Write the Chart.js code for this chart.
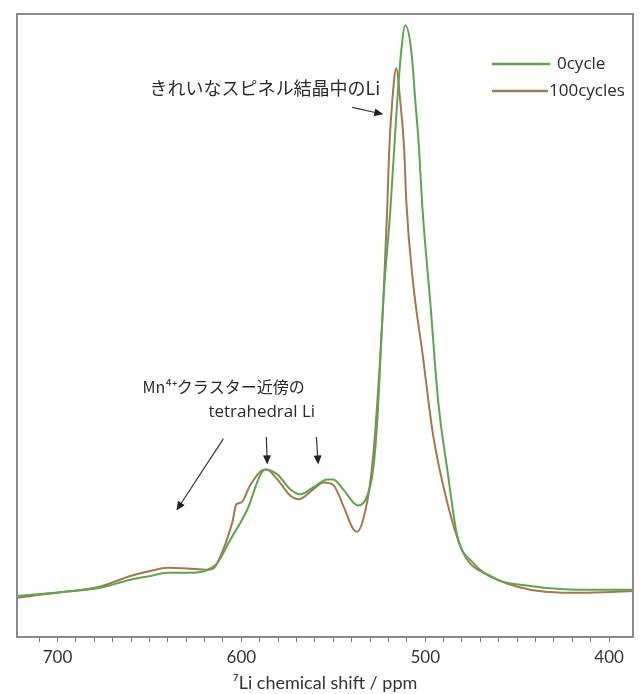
<!DOCTYPE html>
<html>
<head>
<meta charset="utf-8">
<script src="https://cdn.jsdelivr.net/npm/chart.js@4.4.1/dist/chart.umd.min.js"></script>
<style>
  body { margin: 0; background: #fff; }
</style>
</head>
<body>
<canvas id="chart" width="644" height="694"></canvas>
<script>
// 0cycle spectrum (ppm, intensity a.u.)
const shift0 = [721.7, 709.2, 694.6, 676.6, 660.3, 649.5, 640.2, 629.3, 620.7, 616.8, 613.0, 606.0, 596.7, 589.7, 587.0, 580.4, 573.4, 567.9, 560.9, 553.3, 550.0, 544.6, 539.1, 536.4, 531.5, 528.3, 526.1, 522.8, 519.0, 515.2, 513.0, 510.9, 507.6, 505.4, 503.3, 501.6, 497.3, 492.9, 488.0, 482.6, 473.9, 460.9, 442.9, 415.8, 386.4];
const int0 = [6.6, 6.9, 7.3, 7.9, 9.2, 9.8, 10.3, 10.3, 10.5, 11.0, 11.9, 15.6, 20.5, 26.0, 26.9, 26.1, 23.7, 22.9, 24.0, 25.3, 25.3, 23.7, 21.6, 21.1, 22.7, 26.9, 34.5, 53.9, 68.4, 86.1, 94.2, 98.2, 94.2, 86.1, 78.1, 69.2, 53.9, 37.7, 26.9, 16.3, 11.9, 9.2, 8.2, 7.6, 7.6];

// 100cycles spectrum
const shift100 = [721.7, 709.2, 694.6, 676.6, 660.3, 649.5, 640.2, 629.3, 618.5, 615.2, 613.0, 604.9, 602.7, 600.0, 595.1, 588.6, 586.4, 580.4, 573.4, 569.0, 560.9, 555.4, 550.0, 544.6, 539.1, 537.0, 533.7, 529.9, 527.2, 522.8, 520.7, 519.6, 517.9, 515.8, 513.6, 511.4, 510.3, 506.5, 501.6, 495.7, 488.0, 479.3, 464.7, 442.9, 415.8, 386.4];
const int100 = [6.3, 6.8, 7.3, 8.1, 9.8, 10.6, 11.1, 11.0, 10.8, 11.0, 11.9, 18.4, 21.3, 21.6, 24.4, 26.8, 26.9, 25.3, 22.7, 22.1, 23.7, 24.8, 24.4, 21.1, 17.3, 16.9, 18.9, 24.8, 32.9, 53.9, 68.4, 78.1, 86.1, 91.3, 86.1, 78.1, 70.0, 56.6, 45.8, 32.4, 21.6, 13.5, 9.8, 7.6, 7.1, 7.4];

const seriesNames = ['0cycle', '100cycles'];
const seriesColors = ['#5aa84c', '#a8764c'];

const xMin = 387, xMax = 722;

// annotation texts and arrows in data coordinates
const notes = [
    { text: 'きれいなスピネル結晶中のLi', x: 524.5, y: 88.1, align: 'right', font: '18px "Noto Sans CJK JP", sans-serif' },
    { text: 'Mn⁴⁺クラスター近傍の', x: 653.8, y: 40.2, align: 'left', font: '16px "Noto Sans CJK JP", sans-serif' },
    { text: 'tetrahedral Li', x: 617.9, y: 36.1, align: 'left', font: '17px "Open Sans", sans-serif' }
];
const arrows = [
    [539.7, 85.0, 522.8, 83.9],
    [609.8, 31.8, 635.3, 20.3],
    [586.4, 32.1, 585.9, 27.7],
    [559.2, 32.1, 558.2, 27.7]
];

function toPoints(xs, ys) {
    return xs.map((x, i) => ({ x: x, y: ys[i] }));
}

const frameAndNotes = {
    id: 'frameAndNotes',
    afterDatasetsDraw(chart) {
        const { ctx, chartArea: a, scales } = chart;
        const sx = scales.x, sy = scales.y;
        ctx.save();

        // frame
        ctx.strokeStyle = '#8a8a8a';
        ctx.lineWidth = 2;
        ctx.strokeRect(a.left, a.top, a.right - a.left, a.bottom - a.top);

        // arrows
        ctx.strokeStyle = '#333';
        ctx.fillStyle = '#222';
        ctx.lineWidth = 1.2;
        arrows.forEach(([x1, y1, x2, y2]) => {
            const p1 = [sx.getPixelForValue(x1), sy.getPixelForValue(y1)];
            const p2 = [sx.getPixelForValue(x2), sy.getPixelForValue(y2)];
            const ang = Math.atan2(p2[1] - p1[1], p2[0] - p1[0]);
            ctx.beginPath();
            ctx.moveTo(p1[0], p1[1]);
            ctx.lineTo(p2[0] - 6 * Math.cos(ang), p2[1] - 6 * Math.sin(ang));
            ctx.stroke();
            ctx.beginPath();
            ctx.moveTo(p2[0], p2[1]);
            ctx.lineTo(p2[0] - 9 * Math.cos(ang) + 4 * Math.sin(ang), p2[1] - 9 * Math.sin(ang) - 4 * Math.cos(ang));
            ctx.lineTo(p2[0] - 9 * Math.cos(ang) - 4 * Math.sin(ang), p2[1] - 9 * Math.sin(ang) + 4 * Math.cos(ang));
            ctx.closePath();
            ctx.fill();
        });

        // texts
        ctx.fillStyle = '#2a2a2a';
        ctx.textBaseline = 'middle';
        notes.forEach(n => {
            ctx.font = n.font;
            ctx.textAlign = n.align;
            ctx.fillText(n.text, sx.getPixelForValue(n.x), sy.getPixelForValue(n.y));
        });

        // legend
        ctx.font = '17px "Open Sans", sans-serif';
        ctx.textAlign = 'left';
        const lx = a.right - 141;
        [50, 77].forEach((dy, i) => {
            ctx.strokeStyle = seriesColors[i];
            ctx.lineWidth = 2.5;
            ctx.beginPath();
            ctx.moveTo(lx, a.top + dy);
            ctx.lineTo(lx + (i === 0 ? 58 : 56), a.top + dy);
            ctx.stroke();
            ctx.fillStyle = '#2a2a2a';
            ctx.fillText(seriesNames[i], lx + (i === 0 ? 65 : 57), a.top + dy);
        });

        ctx.restore();
    }
};

const ctx = document.getElementById('chart');
new Chart(ctx, {
    type: 'line',
    data: {
        datasets: [
            {
                label: seriesNames[0],
                data: toPoints(shift0, int0),
                borderColor: seriesColors[0],
                borderWidth: 2,
                pointRadius: 0,
                cubicInterpolationMode: 'monotone'
            },
            {
                label: seriesNames[1],
                data: toPoints(shift100, int100),
                borderColor: seriesColors[1],
                borderWidth: 2,
                pointRadius: 0,
                cubicInterpolationMode: 'monotone'
            }
        ]
    },
    options: {
        responsive: false,
        animation: false,
        layout: { padding: { left: 17, right: 11, top: 14, bottom: 0 } },
        plugins: {
            legend: { display: false },
            tooltip: { enabled: false }
        },
        scales: {
            x: {
                type: 'linear',
                reverse: true,
                min: xMin,
                max: xMax,
                afterBuildTicks: axis => {
                    axis.ticks = axis.ticks.filter(t => Math.round(t.value) % 10 === 0);
                },
                ticks: {
                    stepSize: 10,
                    autoSkip: false,
                    maxRotation: 0,
                    padding: 5,
                    color: '#333',
                    font: { family: 'Lato', size: 17 },
                    callback: v => (Math.round(v) % 100 === 0 ? String(Math.round(v)) : '')
                },
                grid: {
                    drawOnChartArea: false,
                    drawTicks: true,
                    tickLength: 5,
                    color: '#777'
                },
                border: { display: false },
                title: {
                    display: true,
                    text: '⁷Li chemical shift / ppm',
                    color: '#333',
                    font: { family: 'Lato', size: 18 },
                    padding: { top: 0, bottom: 0 }
                }
            },
            y: {
                display: false,
                min: 0,
                max: 100
            }
        }
    },
    plugins: [frameAndNotes]
});
</script>
</body>
</html>
